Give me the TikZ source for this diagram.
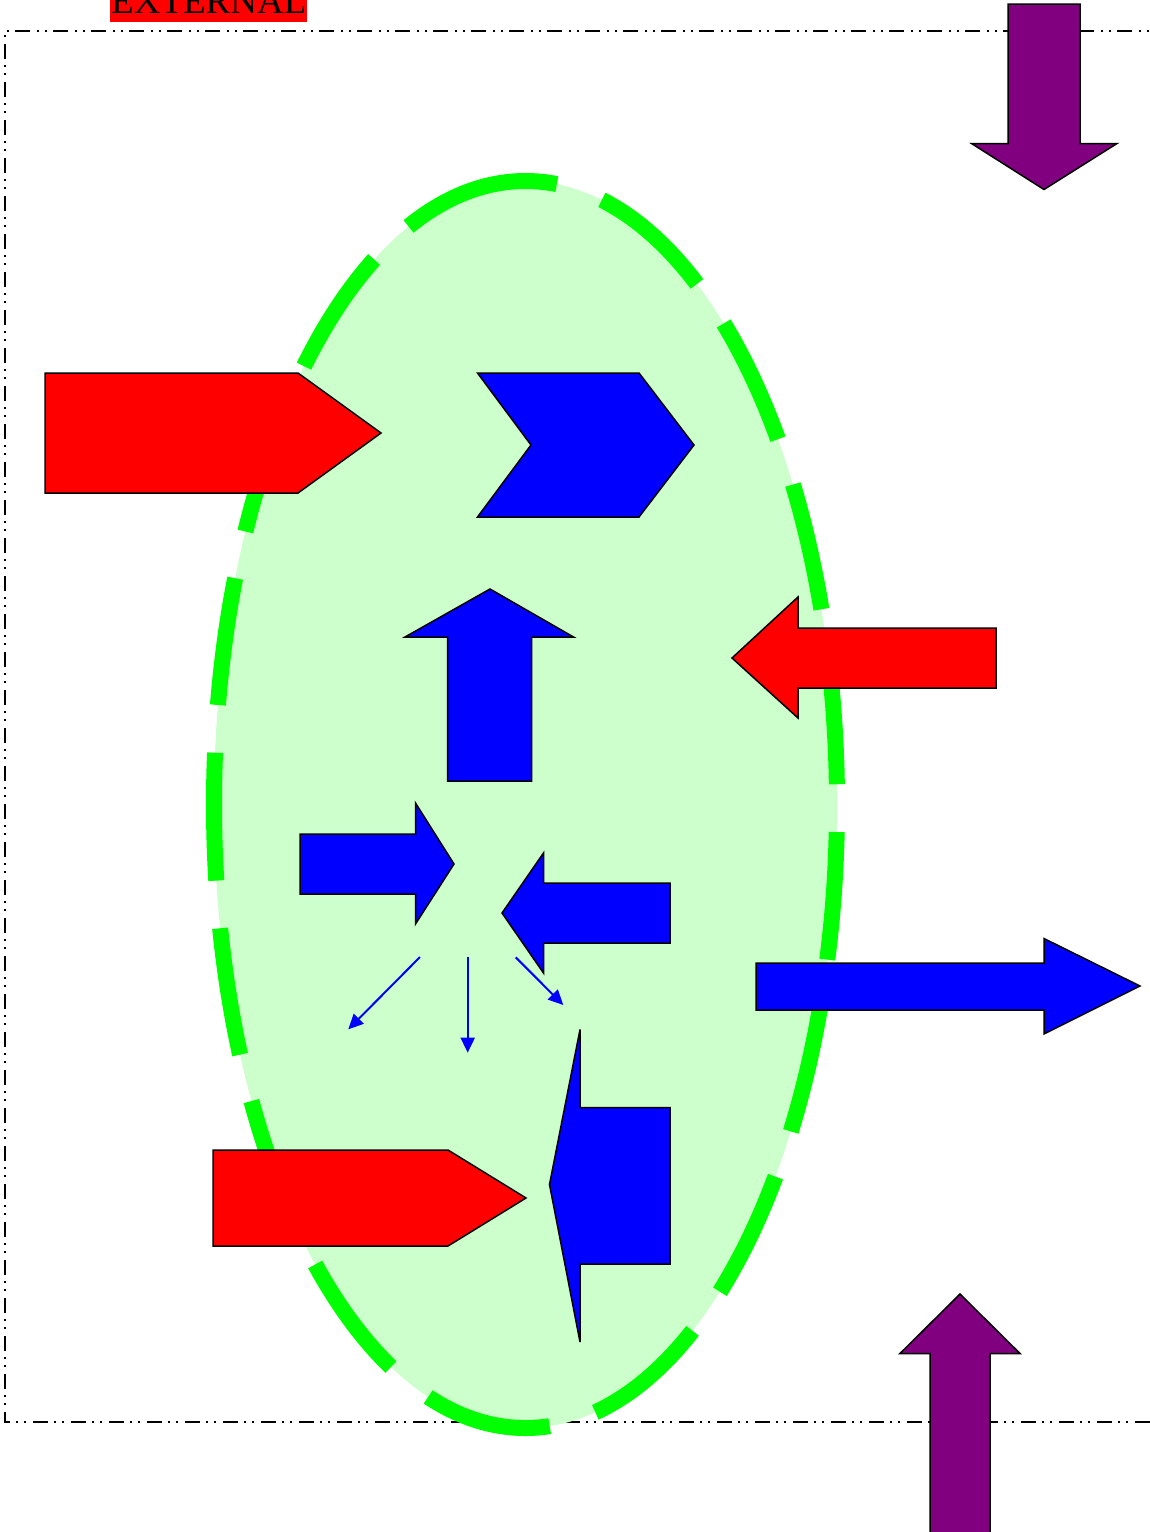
\documentclass[tikz,border=0pt]{standalone}
\usepackage{fontspec}
\setmainfont{Liberation Serif}
\usetikzlibrary{arrows.meta}
\definecolor{myred}{HTML}{FF0000}
\definecolor{myblue}{HTML}{0000FF}
\definecolor{mypurple}{HTML}{800080}
\definecolor{mygreen}{HTML}{00FF00}
\definecolor{mylightgreen}{HTML}{CCFFCC}
\tikzset{
  shapeline/.style={draw=black, line width=1.5pt, line join=miter},
  redshape/.style={shapeline, fill=myred},
  blueshape/.style={shapeline, fill=myblue},
  purpleshape/.style={shapeline, fill=mypurple},
  thinarrow/.style={draw=myblue, line width=2pt, -{Triangle[length=15pt,width=14pt]}},
  boundary/.style={draw=black, line width=1.6pt, dash pattern=on 15pt off 6pt on 2pt off 6pt on 2pt off 7pt},
  regionfill/.style={fill=mylightgreen},
  regionline/.style={draw=mygreen, line width=16pt, dash pattern=on 128pt off 47.8pt}
}
\begin{document}
\begin{tikzpicture}[x=1pt,y=-1pt]
\useasboundingbox (0,0) rectangle (1150,1532);
% external boundary
\draw[boundary] (1170,31) -- (5,31) -- (5,1422) -- (1170,1422);
% label
\node[fill=myred, inner sep=0pt, inner xsep=1pt, text height=33pt, text depth=8.4pt, anchor=base west, font=\fontsize{37}{40}\selectfont] (ext) at (110,13.3) {EXTERNAL};
% region
\fill[regionfill] (525.5,804.5) ellipse [x radius=311.5pt, y radius=623.5pt];
\coordinate (rtop) at (525.5,181);
\draw[regionline] (rtop) arc [start angle=90, end angle=450, x radius=311.5pt, y radius=623.5pt];
% red shapes
\draw[redshape] (45,373) -- (298,373) -- (381,433) -- (298,493) -- (45,493) -- cycle;
\draw[redshape] (732,658) -- (798,597) -- (798,628) -- (996,628) -- (996,688) -- (798,688) -- (798,718) -- cycle;
\draw[redshape] (213,1150) -- (448,1150) -- (526,1198) -- (448,1246) -- (213,1246) -- cycle;
% blue shapes
\draw[blueshape] (477.5,373) -- (639,373) -- (694,445) -- (639,517) -- (477.5,517) -- (531,445) -- cycle;
\draw[blueshape] (490,589) -- (573.5,637) -- (531.5,637) -- (531.5,781) -- (447.5,781) -- (447.5,637) -- (405,637) -- cycle;
\draw[blueshape] (300,834) -- (415.5,834) -- (415.5,803) -- (454,864) -- (415.5,924) -- (415.5,894) -- (300,894) -- cycle;
\draw[blueshape] (502,913) -- (543.5,853) -- (543.5,883) -- (670,883) -- (670,943) -- (543.5,943) -- (543.5,973) -- cycle;
\draw[blueshape] (756,963) -- (1044,963) -- (1044,938.5) -- (1140,986) -- (1044,1034) -- (1044,1010) -- (756,1010) -- cycle;
\draw[blueshape] (549.5,1184.5) -- (580,1029.5) -- (580,1107.5) -- (670,1107.5) -- (670,1264) -- (580,1264) -- (580,1342) -- cycle;
% small arrows
\coordinate (s1) at (420,957);
\coordinate (t1) at (348.3,1029.3);
\coordinate (s2) at (467.7,956.7);
\coordinate (t2) at (467.7,1052.7);
\coordinate (s3) at (515.7,957.3);
\coordinate (t3) at (563.3,1005);
\draw[thinarrow] (s1) -- (t1);
\draw[thinarrow] (s2) -- (t2);
\draw[thinarrow] (s3) -- (t3);
% purple arrows
\draw[purpleshape] (1008,4) -- (1080,4) -- (1080,143.5) -- (1117,143.5) -- (1044,189.5) -- (971.5,143.5) -- (1008,143.5) -- cycle;
\draw[purpleshape] (960,1294) -- (1020,1353.5) -- (990,1353.5) -- (990,1545) -- (930,1545) -- (930,1353.5) -- (900,1353.5) -- cycle;
\end{tikzpicture}
\end{document}
